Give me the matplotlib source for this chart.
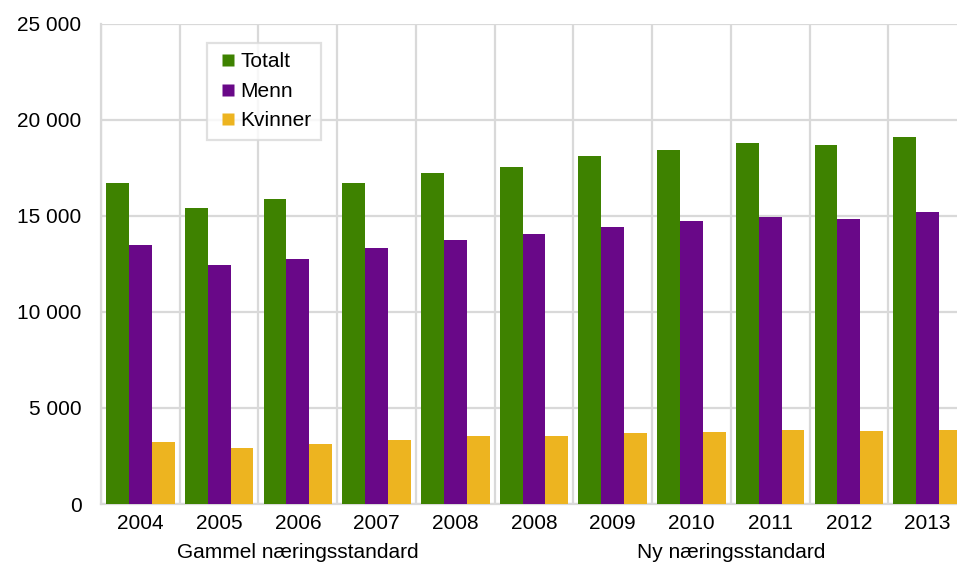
import matplotlib
matplotlib.use("Agg")
import matplotlib.pyplot as plt
import matplotlib.transforms as mtransforms
from matplotlib.lines import Line2D
from matplotlib.ticker import FuncFormatter, MultipleLocator
import numpy as np

plt.rcParams['font.family'] = ['Liberation Sans', 'DejaVu Sans']

years = ['2004', '2005', '2006', '2007', '2008', '2008', '2009', '2010', '2011', '2012', '2013']
totalt = [16720, 15390, 15890, 16680, 17240, 17550, 18090, 18440, 18780, 18660, 19080]
menn = [13450, 12460, 12760, 13320, 13710, 14030, 14390, 14700, 14950, 14830, 15210]
kvinner = [3230, 2920, 3130, 3350, 3530, 3540, 3680, 3730, 3840, 3820, 3870]

groups = [('Gammel næringsstandard', 0, 4), ('Ny næringsstandard', 5, 10)]

c_tot = '#3E8200'
c_menn = '#690888'
c_kv = '#EDB420'
grid_c = '#D9D9D9'

fig = plt.figure(figsize=(9.57, 5.65), dpi=100)
ax = fig.add_axes([101 / 957, 61 / 565, 866 / 957, 480.5 / 565])

x = np.arange(len(years))
w = 0.29
ax.bar(x - w, totalt, w, color=c_tot, zorder=3)
ax.bar(x, menn, w, color=c_menn, zorder=3)
ax.bar(x + w, kvinner, w, color=c_kv, zorder=3)

ax.set_xlim(-0.5, len(years) - 0.5)
ax.set_ylim(0, 25000)
ax.yaxis.set_major_locator(MultipleLocator(5000))
ax.yaxis.set_major_formatter(FuncFormatter(lambda v, p: f'{int(v):,}'.replace(',', ' ')))
ax.set_xticks(x)
ax.set_xticklabels(years)
ax.set_xticks(np.arange(-0.5, len(years), 1), minor=True)

ax.grid(axis='y', which='major', color=grid_c, linewidth=1.6, zorder=0)
ax.grid(axis='x', which='minor', color=grid_c, linewidth=1.6, zorder=0)
ax.tick_params(axis='both', which='both', length=0, labelsize=15)
ax.tick_params(axis='y', pad=14)
ax.tick_params(axis='x', pad=7)

for s in ['top', 'right']:
    ax.spines[s].set_visible(False)
for s in ['left', 'bottom']:
    ax.spines[s].set_color(grid_c)
    ax.spines[s].set_linewidth(1.6)

trans = mtransforms.blended_transform_factory(ax.transData, fig.transFigure)
for name, a, b in groups:
    ax.text((a + b) / 2, 13 / 565, name, transform=trans, ha='center', va='center',
            fontsize=15, clip_on=False)

# square markers as legend keys
handles = [Line2D([], [], linestyle='none', marker='s', markersize=8.4,
                  markerfacecolor=c, markeredgecolor='none') for c in (c_tot, c_menn, c_kv)]
leg = ax.legend(handles, ['Totalt', 'Menn', 'Kvinner'], loc='upper left',
                bbox_to_anchor=(207 / 957, 1 - 43 / 565),
                bbox_transform=fig.transFigure, fontsize=15, frameon=True,
                fancybox=False, borderaxespad=0, handlelength=1.1,
                handletextpad=0.05, labelspacing=0.5, borderpad=0.45)
leg.get_frame().set_edgecolor(grid_c)
leg.get_frame().set_linewidth(1.6)

fig.savefig('out.png', dpi=100)
